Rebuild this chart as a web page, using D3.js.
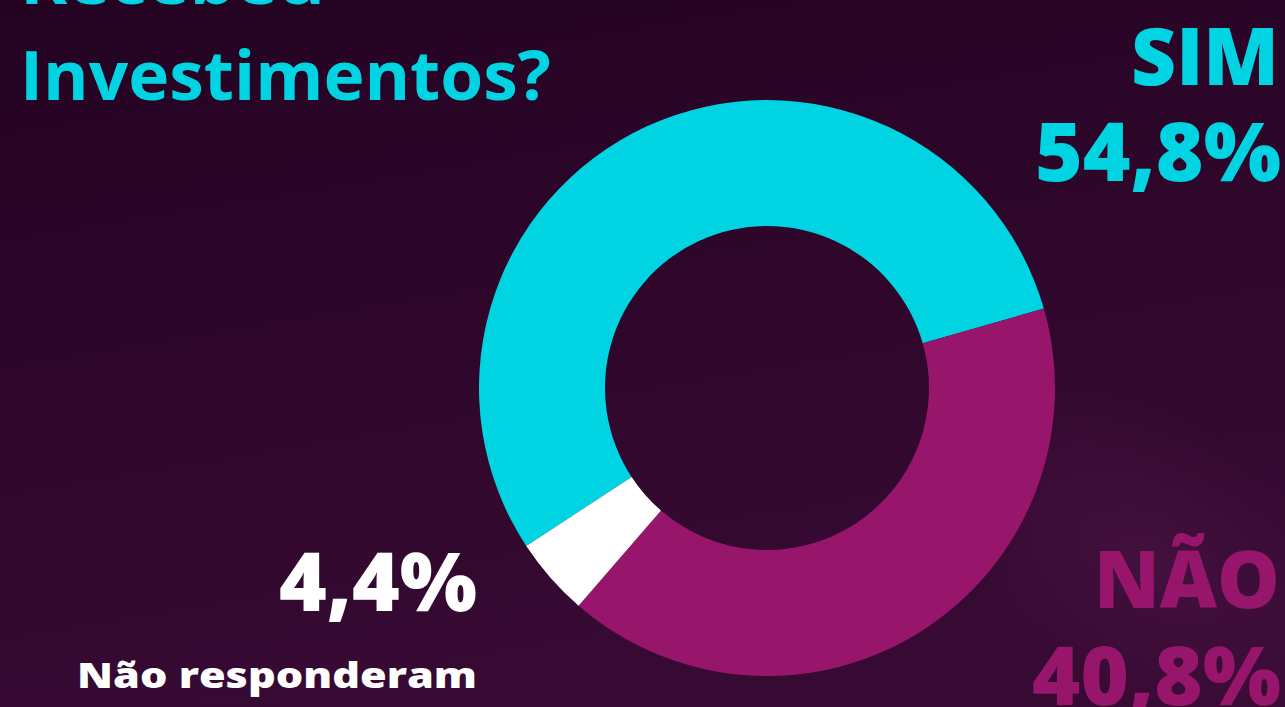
<!DOCTYPE html>
<html><head><meta charset="utf-8">
<script src="https://cdn.jsdelivr.net/npm/d3@7"></script>
<style>html,body{margin:0;padding:0;overflow:hidden;background:#2a0629}</style>
</head><body>
<svg id="chart" width="1285" height="707"></svg>
<script>
const categories = ["SIM", "NÃO", "Não responderam"];
const values = [54.8, 40.8, 4.4];
const valueLabels = ["54,8%", "40,8%", "4,4%"];
const titleLines = ["Recebeu", "Investimentos?"];
const colors = ["#00d3e2", "#97166b", "#ffffff"];

const svg = d3.select("#chart");
const W = 1285, H = 707;
const defs = svg.append("defs");
const bg = defs.append("linearGradient").attr("id","bg").attr("x1",0).attr("y1",0).attr("x2",0.3).attr("y2",1);
bg.append("stop").attr("offset","0%").attr("stop-color","#240322");
bg.append("stop").attr("offset","100%").attr("stop-color","#370a33");
const glow = defs.append("radialGradient").attr("id","glow").attr("cx","0.5").attr("cy","0.5").attr("r","0.5");
glow.append("stop").attr("offset","0%").attr("stop-color","#4a1544").attr("stop-opacity",0.6);
glow.append("stop").attr("offset","100%").attr("stop-color","#4a1544").attr("stop-opacity",0);
svg.append("rect").attr("width",W).attr("height",H).attr("fill","url(#bg)");
svg.append("ellipse").attr("cx",1150).attr("cy",560).attr("rx",260).attr("ry",140)
  .attr("transform","rotate(35,1150,560)").attr("fill","url(#glow)");

const cx = 767, cy = 388, rOuter = 288, rInner = 162;
const start = 236.7 * Math.PI / 180;
const pie = d3.pie().sort(null).value(d => d).startAngle(start).endAngle(start + 2*Math.PI);
const arc = d3.arc().innerRadius(rInner).outerRadius(rOuter);
const g = svg.append("g").attr("transform", `translate(${cx},${cy})`);
g.selectAll("path").data(pie(values)).join("path")
  .attr("d", arc).attr("fill", (d,i) => colors[i]);

const font = "'Open Sans', 'Noto Sans', sans-serif";
function txt(s, x, y, size, fill, anchor, len, weight) {
  svg.append("text").attr("x", x).attr("y", y).text(s)
    .attr("font-family", font).attr("font-weight", weight || 800)
    .attr("font-size", size).attr("fill", fill).attr("text-anchor", anchor)
    .attr("textLength", len).attr("lengthAdjust", "spacingAndGlyphs");
}
// Title
txt(titleLines[0], 20, 4, 68, colors[0], "start", 305, 700);
txt(titleLines[1], 20, 100, 68, colors[0], "start", 531, 700);
// SIM
txt(categories[0], 1279, 85, 80, colors[0], "end", 148);
txt(valueLabels[0], 1281, 181, 82, colors[0], "end", 246);
// NÃO
txt(categories[1], 1280, 608, 80, colors[1], "end", 186);
txt(valueLabels[1], 1281, 705, 82, colors[1], "end", 249);
// Não responderam
txt(valueLabels[2], 477, 611, 82, colors[2], "end", 198);
txt(categories[2], 477, 688, 36, colors[2], "end", 400);
</script>
</body></html>
